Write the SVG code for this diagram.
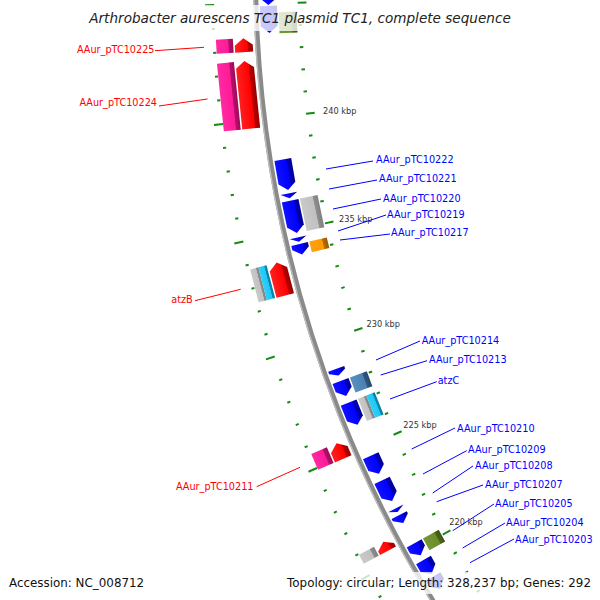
<svg xmlns="http://www.w3.org/2000/svg" width="600" height="600" viewBox="0 0 600 600">
<style>
.lbl{font-family:"DejaVu Sans","Liberation Sans",sans-serif;font-size:9.7px}
.lr{fill:#ff0000}
.lb{fill:#0000ff}
.cr{stroke:#ff0000;stroke-width:1;fill:none}
.cb{stroke:#0000ff;stroke-width:1;fill:none}
.tkl{font-family:"DejaVu Sans","Liberation Sans",sans-serif;font-size:8.2px;fill:#333333}
.leg{font-family:"DejaVu Sans","Liberation Sans",sans-serif;font-size:11.9px;fill:#111111}
.ttl{font-family:"DejaVu Sans","Liberation Sans",sans-serif;font-size:13.6px;font-style:italic;fill:#222222}
.box{fill:#ffffff;fill-opacity:0.78}
.red{fill:url(#gR)}
.pink{fill:url(#gP)}
.blue{fill:url(#gB)}
.gray{fill:url(#gG)}
.cyan{fill:url(#gC)}
.orange{fill:url(#gO)}
.steel{fill:url(#gS)}
.olive{fill:url(#gV)}
</style>
<defs>
<linearGradient id="gR" x1="0" x2="1" y1="0" y2="0"><stop offset="0" stop-color="#ff2020"/><stop offset="0.7" stop-color="#ff0000"/><stop offset="0.74" stop-color="#b80000"/><stop offset="1" stop-color="#9a0000"/></linearGradient>
<linearGradient id="gP" x1="0" x2="1" y1="0" y2="0"><stop offset="0" stop-color="#ff2aa2"/><stop offset="0.7" stop-color="#ff1a98"/><stop offset="0.74" stop-color="#b8106a"/><stop offset="1" stop-color="#9c0a58"/></linearGradient>
<linearGradient id="gB" x1="0" x2="1" y1="0" y2="0"><stop offset="0" stop-color="#1010ff"/><stop offset="0.7" stop-color="#0000ff"/><stop offset="0.74" stop-color="#0000b4"/><stop offset="1" stop-color="#00009a"/></linearGradient>
<linearGradient id="gG" x1="0" x2="1" y1="0" y2="0"><stop offset="0" stop-color="#cacaca"/><stop offset="0.7" stop-color="#c0c0c0"/><stop offset="0.74" stop-color="#8e8e8e"/><stop offset="1" stop-color="#808080"/></linearGradient>
<linearGradient id="gC" x1="0" x2="1" y1="0" y2="0"><stop offset="0" stop-color="#2ed0f8"/><stop offset="0.7" stop-color="#1ec8f5"/><stop offset="0.74" stop-color="#0a8cb4"/><stop offset="1" stop-color="#07789c"/></linearGradient>
<linearGradient id="gO" x1="0" x2="1" y1="0" y2="0"><stop offset="0" stop-color="#ffa010"/><stop offset="0.7" stop-color="#ff9a00"/><stop offset="0.74" stop-color="#b86a00"/><stop offset="1" stop-color="#9c5a00"/></linearGradient>
<linearGradient id="gS" x1="0" x2="1" y1="0" y2="0"><stop offset="0" stop-color="#5a8fc0"/><stop offset="0.7" stop-color="#4a80b2"/><stop offset="0.74" stop-color="#30567c"/><stop offset="1" stop-color="#284a6a"/></linearGradient>
<linearGradient id="gV" x1="0" x2="1" y1="0" y2="0"><stop offset="0" stop-color="#76963a"/><stop offset="0.7" stop-color="#6b8e23"/><stop offset="0.74" stop-color="#4a6418"/><stop offset="1" stop-color="#3e5414"/></linearGradient>
<path id="tm" d="M-1249.5 0H-1246.3M-1162.7 0H-1159.2"/>
<path id="tM" d="M-1255.5 0H-1246.3M-1162.7 0H-1154"/>
</defs>
<rect x="0" y="0" width="600" height="600" fill="#ffffff"/>

<g id="ticks" transform="translate(1460 -28.6)" fill="none" stroke="#158a15" stroke-width="2">
<use href="#tm" transform="rotate(-0.451)"/>
<use href="#tM" transform="rotate(-1.548)"/>
<use href="#tm" transform="rotate(-2.645)"/>
<use href="#tm" transform="rotate(-3.742)"/>
<use href="#tm" transform="rotate(-4.838)"/>
<use href="#tm" transform="rotate(-5.935)"/>
<use href="#tM" transform="rotate(-7.032)"/>
<use href="#tm" transform="rotate(-8.129)"/>
<use href="#tm" transform="rotate(-9.226)"/>
<use href="#tm" transform="rotate(-10.322)"/>
<use href="#tm" transform="rotate(-11.419)"/>
<use href="#tM" transform="rotate(-12.516)"/>
<use href="#tm" transform="rotate(-13.613)"/>
<use href="#tm" transform="rotate(-14.710)"/>
<use href="#tm" transform="rotate(-15.806)"/>
<use href="#tm" transform="rotate(-16.903)"/>
<use href="#tM" transform="rotate(-18.000)"/>
<use href="#tm" transform="rotate(-19.097)"/>
<use href="#tm" transform="rotate(-20.194)"/>
<use href="#tm" transform="rotate(-21.290)"/>
<use href="#tm" transform="rotate(-22.387)"/>
<use href="#tM" transform="rotate(-23.484)"/>
<use href="#tm" transform="rotate(-24.581)"/>
<use href="#tm" transform="rotate(-25.678)"/>
<use href="#tm" transform="rotate(-26.774)"/>
<use href="#tm" transform="rotate(-27.871)"/>
<use href="#tM" transform="rotate(-28.968)"/>
<use href="#tm" transform="rotate(-30.065)"/>
<use href="#tm" transform="rotate(-31.162)"/>
<use href="#tm" transform="rotate(-32.258)"/>
</g>
<g id="tick-labels">
<text class="tkl" x="323" y="113.5">240 kbp</text>
<text class="tkl" x="339" y="221.5">235 kbp</text>
<text class="tkl" x="366.5" y="326.7">230 kbp</text>
<text class="tkl" x="403.3" y="427.7">225 kbp</text>
<text class="tkl" x="449.3" y="525">220 kbp</text>
</g>

<g id="backbone">
<circle cx="1460" cy="-28.6" r="1204.5" fill="none" stroke="#8a8a8a" stroke-width="5"/>
<circle cx="1460" cy="-28.6" r="1206.4" fill="none" stroke="#bdbdbd" stroke-width="1.3"/>
</g>

<g id="features" transform="translate(1460 -28.6)">
<g id="AAur_pTC10225" transform="rotate(-3.47)">
<rect class="pink" x="-1246" y="-7" width="17" height="14"/>
<path class="red" d="M-1227.5 7V0L-1218.5 -7L-1209.5 0V7Z"/>
</g>
<g id="AAur_pTC10224" transform="rotate(-5.81)">
<rect class="pink" x="-1246" y="-34" width="17" height="68"/>
<path class="red" d="M-1227.5 34V-27L-1218.5 -34L-1209.5 -27V34Z"/>
</g>
<g id="atzB" transform="rotate(-14.62)">
<rect class="gray" x="-1246" y="-17" width="8.5" height="34"/>
<rect class="cyan" x="-1237.5" y="-17" width="8.5" height="34"/>
<path class="red" d="M-1227.5 17V-10L-1218.5 -17L-1209.5 -10V17Z"/>
</g>
<g id="AAur_pTC10211" transform="rotate(-23.18)">
<rect class="pink" x="-1246" y="-8.5" width="17" height="17"/>
<path class="red" d="M-1227.5 8.5V-1.5L-1218.5 -8.5L-1209.5 -1.5V8.5Z"/>
</g>
<g id="gene-unlabelled" transform="rotate(-28.15)">
<rect class="gray" x="-1246" y="-5" width="17" height="10"/>
<path class="red" d="M-1227.5 5V1L-1218.5 -5L-1209.5 1V5Z"/>
</g>
<g id="gene-top-a" transform="rotate(-0.8)">
<path class="blue" d="M-1200.5 -17H-1183.5V10L-1192 17L-1200.5 10Z"/>
</g>
<g id="gene-top-b" transform="rotate(-2.31)">
<path class="blue" d="M-1200.5 -13.5H-1183.5V6.5L-1192 13.5L-1200.5 6.5Z"/>
<rect class="olive" x="-1182" y="-6.7" width="18" height="21"/>
</g>
<g id="AAur_pTC10222" transform="rotate(-9.82)">
<path class="blue" d="M-1200.5 -15.5H-1183.5V8.5L-1192 15.5L-1200.5 8.5Z"/>
</g>
<g id="AAur_pTC10221" transform="rotate(-10.85)">
<path class="blue" d="M-1200.5 -2.5H-1183.5L-1192 2.5Z"/>
</g>
<g id="AAur_pTC10220" transform="rotate(-11.88)">
<path class="blue" d="M-1200.5 -16.5H-1183.5V9.5L-1192 16.5L-1200.5 9.5Z"/>
<rect class="gray" x="-1182" y="-16.5" width="18" height="33"/>
</g>
<g id="AAur_pTC10219" transform="rotate(-13.0)">
<path class="blue" d="M-1200.5 -2.3H-1183.5L-1192 2.3Z"/>
</g>
<g id="AAur_pTC10217" transform="rotate(-13.48)">
<path class="blue" d="M-1200.5 -5.5H-1183.5V-1L-1192 5.5L-1200.5 -1Z"/>
<rect class="orange" x="-1182" y="-5.5" width="18" height="11"/>
</g>
<g id="AAur_pTC10214" transform="rotate(-19.65)">
<path class="blue" d="M-1200.5 -3.5H-1183.5V-1L-1192 3.5L-1200.5 -1Z"/>
</g>
<g id="AAur_pTC10213" transform="rotate(-20.48)">
<path class="blue" d="M-1200.5 -8H-1183.5V1L-1192 8L-1200.5 1Z"/>
<rect class="steel" x="-1182" y="-8" width="18" height="16"/>
</g>
<g id="atzC" transform="rotate(-21.78)">
<path class="blue" d="M-1200.5 -12H-1183.5V5L-1192 12L-1200.5 5Z"/>
<rect class="gray" x="-1182" y="-12" width="9" height="24"/>
<rect class="cyan" x="-1173" y="-12" width="9" height="24"/>
</g>
<g id="AAur_pTC10210" transform="rotate(-24.45)">
<path class="blue" d="M-1200.5 -10H-1183.5V3L-1192 10L-1200.5 3Z"/>
</g>
<g id="AAur_pTC10209" transform="rotate(-25.83)">
<path class="blue" d="M-1200.5 -11.5H-1183.5V4.5L-1192 11.5L-1200.5 4.5Z"/>
</g>
<g id="AAur_pTC10208" transform="rotate(-26.87)">
<path class="blue" d="M-1200.5 -2H-1183.5L-1192 2Z"/>
</g>
<g id="AAur_pTC10207" transform="rotate(-27.35)">
<path class="blue" d="M-1200.5 -4.5H-1183.5V-2L-1192 4.5L-1200.5 -2Z"/>
</g>
<g id="AAur_pTC10205" transform="rotate(-29.0)">
<path class="blue" d="M-1200.5 -6.7H-1183.5V0L-1192 6.7L-1200.5 0Z"/>
<rect class="olive" x="-1182" y="-6.7" width="18" height="13.4"/>
</g>
<g id="AAur_pTC10204" transform="rotate(-29.98)">
<path class="blue" d="M-1200.5 -8H-1183.5V1L-1192 8L-1200.5 1Z"/>
</g>
<g id="AAur_pTC10203" transform="rotate(-30.85)">
<path class="blue" d="M-1200.5 -7H-1183.5V0L-1192 7L-1200.5 0Z"/>
</g>
</g>

<g id="connectors">
<line class="cr" x1="155" y1="50.7" x2="204" y2="47.3"/>
<line class="cr" x1="159" y1="106" x2="207.5" y2="99"/>
<line class="cr" x1="195" y1="300.7" x2="240.7" y2="289.3"/>
<line class="cr" x1="256.7" y1="486.7" x2="300" y2="467.3"/>
<line class="cb" x1="326" y1="169" x2="373" y2="161"/>
<line class="cb" x1="329" y1="189" x2="377" y2="180"/>
<line class="cb" x1="333" y1="209" x2="381" y2="199"/>
<line class="cb" x1="338" y1="231" x2="386" y2="215"/>
<line class="cb" x1="340" y1="240" x2="390" y2="234"/>
<line class="cb" x1="376" y1="360" x2="420" y2="341"/>
<line class="cb" x1="380.7" y1="375" x2="427" y2="360.7"/>
<line class="cb" x1="390" y1="399" x2="436.7" y2="381.7"/>
<line class="cb" x1="411.7" y1="449" x2="455" y2="428"/>
<line class="cb" x1="423" y1="474" x2="466.7" y2="450.7"/>
<line class="cb" x1="432.7" y1="493" x2="473" y2="466"/>
<line class="cb" x1="436.7" y1="501.7" x2="483" y2="485"/>
<line class="cb" x1="452.7" y1="530.7" x2="494" y2="504"/>
<line class="cb" x1="462.7" y1="548" x2="505" y2="523"/>
<line class="cb" x1="470" y1="562.7" x2="514" y2="539"/>
</g>

<g id="labels">
<text class="lbl lr" x="154.5" y="52.9" text-anchor="end">AAur_pTC10225</text>
<text class="lbl lr" x="157" y="105.9" text-anchor="end">AAur_pTC10224</text>
<text class="lbl lr" x="192.7" y="302.9" text-anchor="end">atzB</text>
<text class="lbl lr" x="253.5" y="489.5" text-anchor="end">AAur_pTC10211</text>
<text class="lbl lb" x="376" y="162.9">AAur_pTC10222</text>
<text class="lbl lb" x="379" y="182.2">AAur_pTC10221</text>
<text class="lbl lb" x="383" y="202.2">AAur_pTC10220</text>
<text class="lbl lb" x="387" y="217.5">AAur_pTC10219</text>
<text class="lbl lb" x="391" y="236.2">AAur_pTC10217</text>
<text class="lbl lb" x="421.7" y="344.2">AAur_pTC10214</text>
<text class="lbl lb" x="429" y="363.2">AAur_pTC10213</text>
<text class="lbl lb" x="437.7" y="383.5">atzC</text>
<text class="lbl lb" x="457" y="431.7">AAur_pTC10210</text>
<text class="lbl lb" x="468" y="452.7">AAur_pTC10209</text>
<text class="lbl lb" x="475" y="468.9">AAur_pTC10208</text>
<text class="lbl lb" x="485" y="487.9">AAur_pTC10207</text>
<text class="lbl lb" x="495" y="506.9">AAur_pTC10205</text>
<text class="lbl lb" x="506" y="525.7">AAur_pTC10204</text>
<text class="lbl lb" x="515" y="542.5">AAur_pTC10203</text>
</g>

<g id="title">
<rect class="box" x="84" y="5" width="432" height="26"/>
<text class="ttl" x="300" y="23" text-anchor="middle">Arthrobacter aurescens TC1 plasmid TC1, complete sequence</text>
</g>
<g id="legend">
<rect class="box" x="5" y="572" width="142" height="22"/>
<rect class="box" x="283" y="572" width="313" height="22"/>
<text class="leg" x="9" y="587">Accession: NC_008712</text>
<text class="leg" x="591" y="587" text-anchor="end">Topology: circular; Length: 328,237 bp; Genes: 292</text>
</g>
</svg>
